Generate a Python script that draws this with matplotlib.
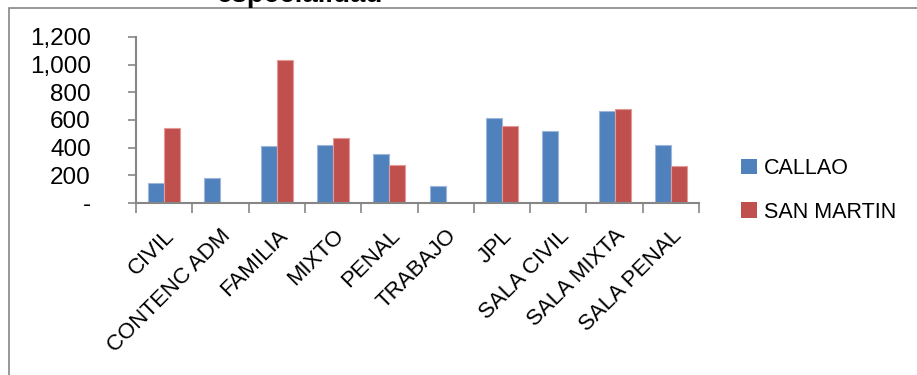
import matplotlib
matplotlib.use("Agg")
import matplotlib.pyplot as plt
from matplotlib.patches import Rectangle
from matplotlib.ticker import FuncFormatter
import numpy as np

plt.rcParams['font.family'] = ['Liberation Sans', 'DejaVu Sans']

categories = ["CIVIL", "CONTENC ADM", "FAMILIA", "MIXTO", "PENAL", "TRABAJO",
              "JPL", "SALA CIVIL", "SALA MIXTA", "SALA PENAL"]
callao = [142, 183, 415, 422, 355, 123, 613, 519, 664, 418]
san_martin = [541, 0, 1031, 473, 273, 0, 557, 0, 676, 266]
series_names = ["CALLAO", "SAN MARTIN"]
title_text = "especialidad"

W, H = 917, 375
fig = plt.figure(figsize=(W / 100, H / 100), dpi=100)

# outer chart frame
axis_gray = "#868686"
fig.patches.append(Rectangle((9 / W, -0.1), 1.2, (H - 8) / H + 0.1,
                             transform=fig.transFigure, fill=False,
                             edgecolor=axis_gray, linewidth=1.2))

fig.text(300 / W, 1 - 2.5 / H, title_text, ha="center", va="baseline",
         fontsize=20, fontweight="bold", color="black")

ax = fig.add_axes([136 / W, 1 - 203 / H, (699 - 136) / W, (203 - 37) / H])

x = np.arange(len(categories))
bw = 0.285
blue = "#4F81BD"
red = "#C0504D"
ax.bar(x - bw / 2, callao, width=bw, color=blue, edgecolor="#9DB6DA",
       linewidth=0.8, label=series_names[0])
ax.bar(x + bw / 2, san_martin, width=bw, color=red, edgecolor="#E39A98",
       linewidth=0.8, label=series_names[1])

ax.set_xlim(-0.5, len(categories) - 0.5)
ax.set_ylim(0, 1200)
ax.set_yticks(np.arange(0, 1201, 200))
ax.yaxis.set_major_formatter(FuncFormatter(lambda v, p: "-" if v == 0 else f"{int(v):,}"))

for s in ["top", "right"]:
    ax.spines[s].set_visible(False)
for s in ["left", "bottom"]:
    ax.spines[s].set_color(axis_gray)
    ax.spines[s].set_linewidth(1.5)

ax.tick_params(axis="y", direction="out", length=6, width=1.2, color=axis_gray,
               labelsize=17.5, pad=26.5)
for lbl in ax.get_yticklabels():
    lbl.set_horizontalalignment("right")

# category boundaries get tick marks, centers carry the labels
ax.set_xticks(np.arange(-0.5, len(categories), 1.0), minor=True)
ax.set_xticks(x)
ax.set_xticklabels(categories, rotation=45, ha="right", rotation_mode="anchor",
                   fontsize=16)
ax.tick_params(axis="x", which="major", length=0, pad=16)
ax.tick_params(axis="x", which="minor", direction="out", length=7, width=1.2,
               color=axis_gray)

leg = fig.legend(loc="upper left", bbox_to_anchor=(741 / W, 1 - 158 / H),
                 frameon=False, fontsize=15.5, handlelength=0.75,
                 handleheight=0.75, handletextpad=0.3, labelspacing=1.05,
                 borderaxespad=0, borderpad=0)
for h in leg.legend_handles:
    h.set_edgecolor("none")

fig.savefig("out.png", dpi=100, facecolor="white")
